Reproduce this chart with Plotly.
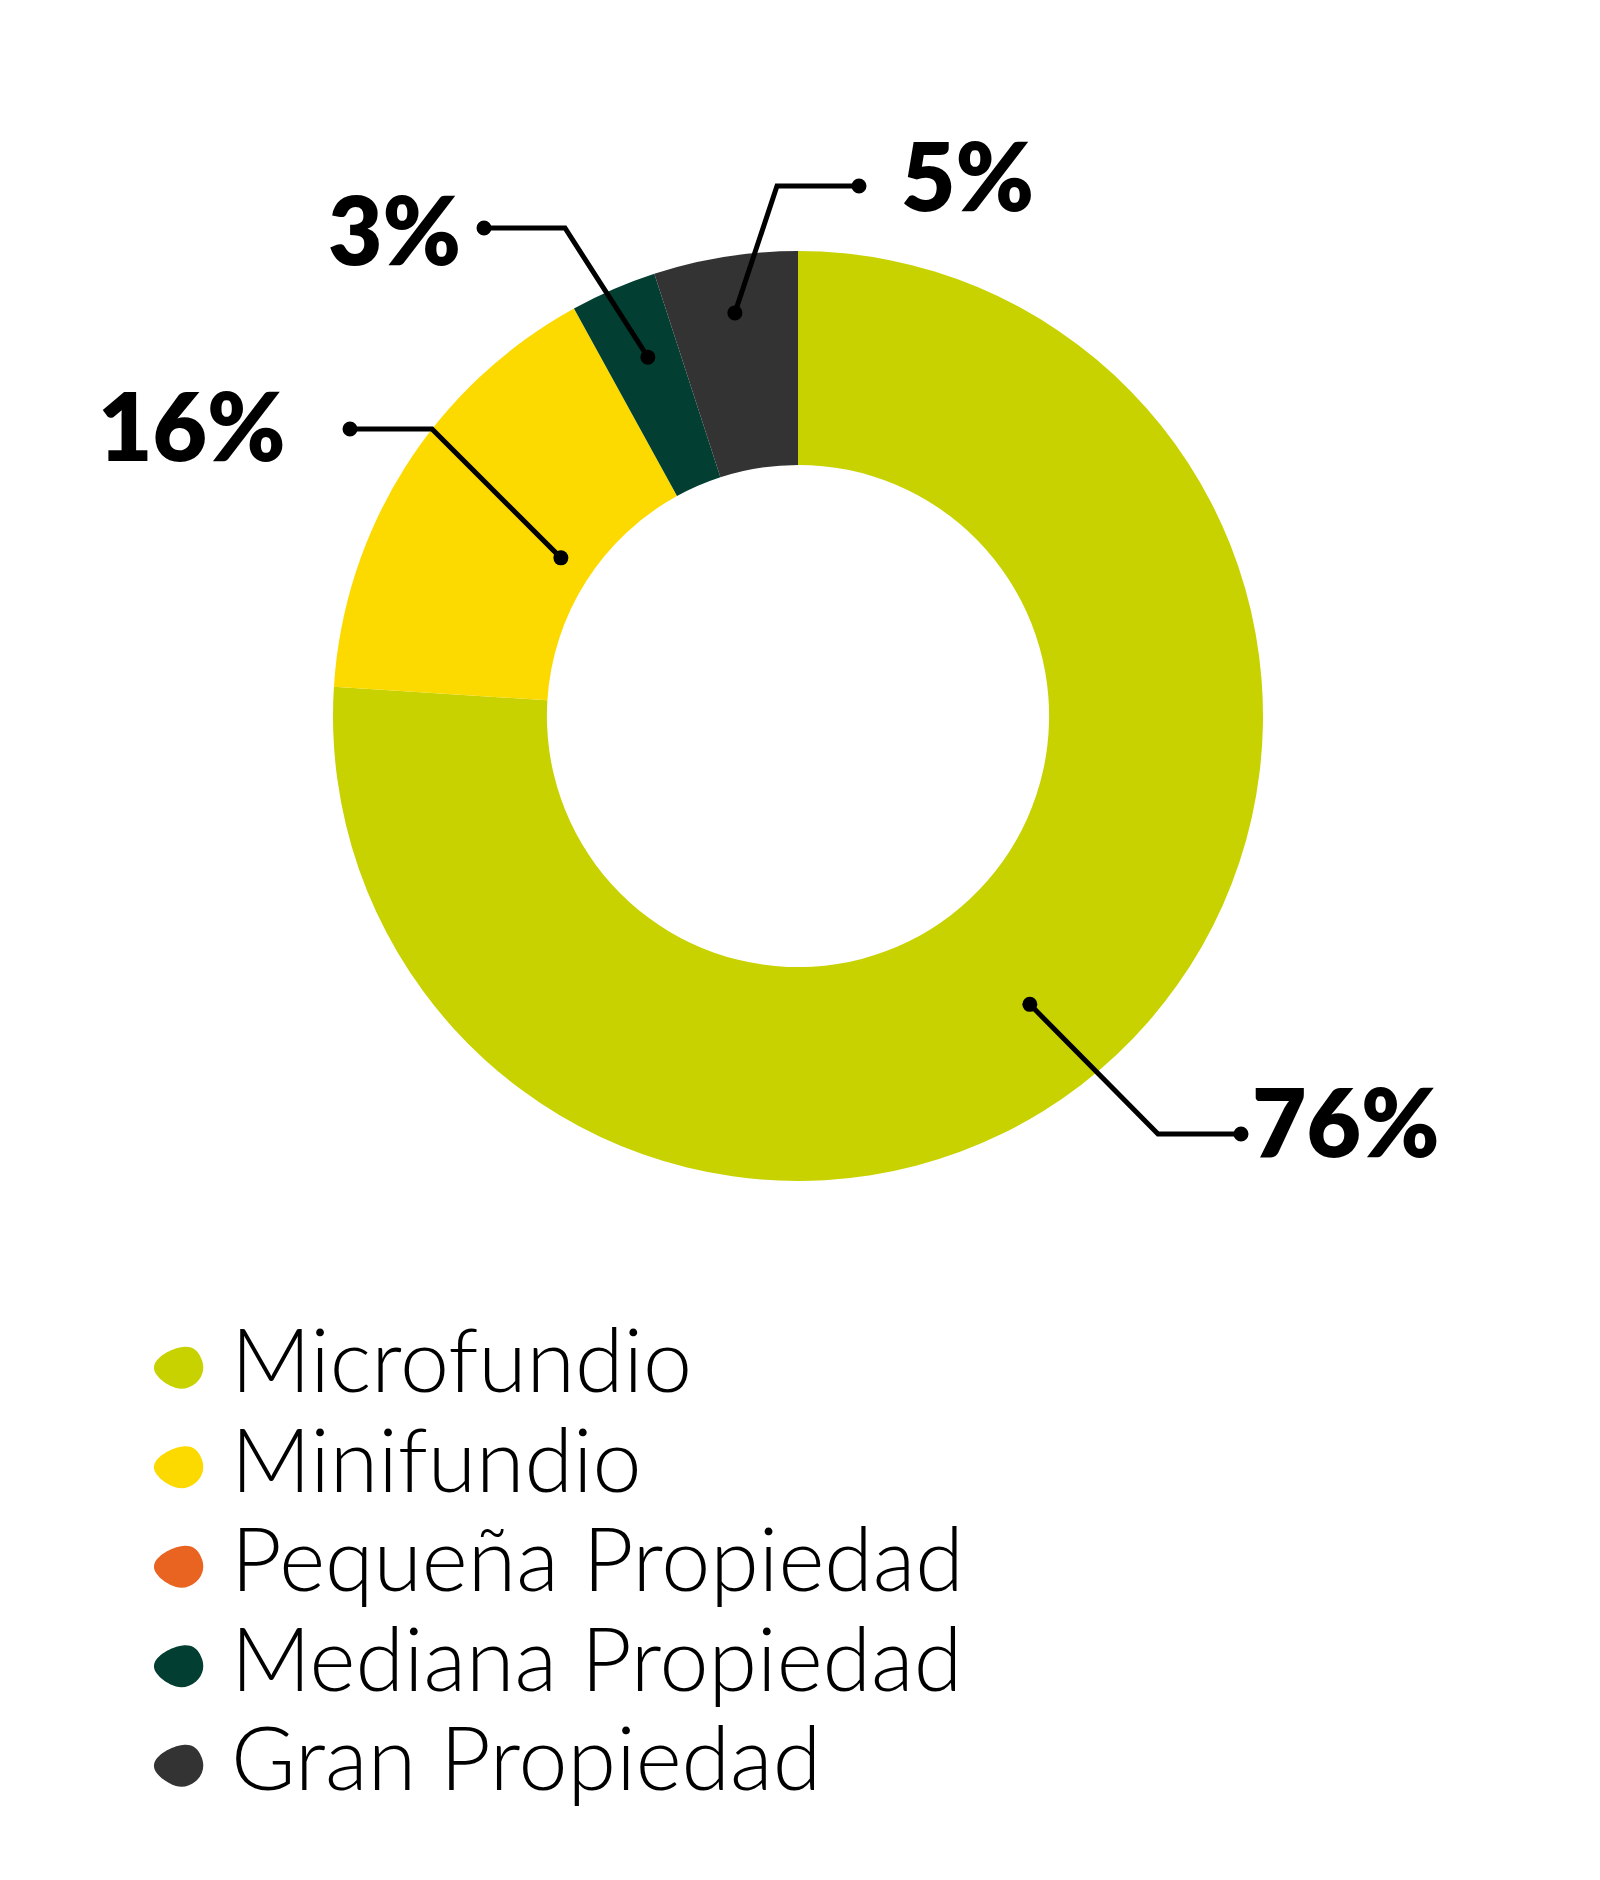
import math
import plotly.graph_objects as go

# Land-size categories and their share (%)
labels = ['Microfundio', 'Minifundio', 'Pequeña Propiedad',
          'Mediana Propiedad', 'Gran Propiedad']
values = [76, 16, 0, 3, 5]
pct_text = ['76%', '16%', '0%', '3%', '5%']
colors = ['#C7D200', '#FCDA00', '#E86420', '#023F32', '#333333']

W, H = 1600, 1880
OFF = 8   # the page body has a default 8px margin
cx, cy, R = 798, 716, 465   # donut centre / outer radius in page pixels


def px(x):
    return (x - OFF) / W


def py(y):
    return 1 - (y - OFF) / H


fig = go.Figure(go.Pie(
    labels=labels, values=values, hole=0.54, sort=False,
    direction='clockwise', rotation=0,
    marker=dict(colors=colors, line=dict(width=0)),
    textinfo='none', showlegend=False, hoverinfo='label+percent',
    domain=dict(x=[px(cx - R), px(cx + R)], y=[py(cy + R), py(cy - R)])))

# callout geometry: (anchor radius, angle nudge, elbow, end, text x,
#                    text y, anchor)
callouts = {
    0: (370, 4.4, (1158, 1134), (1241, 1134), 1250, 1120, 'left'),
    1: (285, 1.3, (432, 429), (350, 429), 288, 424.5, 'right'),
    3: (389, 0.7, (565, 228), (484, 228), 463, 228.5, 'right'),
    4: (408, 0.1, (777, 186), (859, 186), 899, 174.5, 'left'),
}

shapes = []
annotations = []
total = sum(values)
cum = 0
for i, v in enumerate(values):
    mid = (cum + v / 2) / total * 360
    cum += v
    if i not in callouts:
        continue
    r, nudge, elbow, end, tx, ty, anchor = callouts[i]
    a = math.radians(mid + nudge)
    sx, sy = cx + r * math.sin(a), cy - r * math.cos(a)
    shapes.append(dict(
        type='path', xref='paper', yref='paper',
        path=f'M {px(sx)},{py(sy)} L {px(elbow[0])},{py(elbow[1])} '
             f'L {px(end[0])},{py(end[1])}',
        line=dict(color='black', width=5)))
    for (dx, dy) in [(sx, sy), end]:
        shapes.append(dict(
            type='circle', xref='paper', yref='paper',
            x0=px(dx - 7.5), x1=px(dx + 7.5),
            y0=py(dy + 7.5), y1=py(dy - 7.5),
            fillcolor='black', line=dict(width=0)))
    annotations.append(dict(
        text=pct_text[i], x=px(tx), y=py(ty), xref='paper',
        yref='paper', xanchor=anchor, yanchor='middle', showarrow=False,
        font=dict(family='Lato', size=94, color='black', weight=800)))

# hand-drawn legend with pebble-shaped markers (pixel offsets from centre)
pebble = [(-24, -1),
          (-23, -11), (-6, -20), (5, -21),
          (15, -22), (20, -17), (23, -10),
          (27, -2), (26, 8), (18, 15),
          (12, 20), (5, 22), (-2, 20),
          (-12, 17), (-25, 7), (-24, -1)]
for i, lab in enumerate(labels):
    ly = 1368 + i * 99.5
    mx = 178
    pts = [(px(mx + x), py(ly + y)) for x, y in pebble]
    d = f'M {pts[0][0]},{pts[0][1]}'
    for k in range(1, len(pts) - 1, 3):
        d += (f' C {pts[k][0]},{pts[k][1]} {pts[k+1][0]},{pts[k+1][1]} '
              f'{pts[k+2][0]},{pts[k+2][1]}')
    d += ' Z'
    shapes.append(dict(type='path', xref='paper', yref='paper', path=d,
                       fillcolor=colors[i], line=dict(width=0)))
    annotations.append(dict(
        text=lab, x=px(229), y=py(ly - 10), xref='paper', yref='paper',
        xanchor='left', yanchor='middle', showarrow=False,
        font=dict(family='Lato', size=88, color='black', weight=300)))

fig.update_layout(
    width=W, height=H, margin=dict(l=0, r=0, t=0, b=0),
    paper_bgcolor='white', plot_bgcolor='white',
    shapes=shapes, annotations=annotations)

fig.write_html('out.html')
